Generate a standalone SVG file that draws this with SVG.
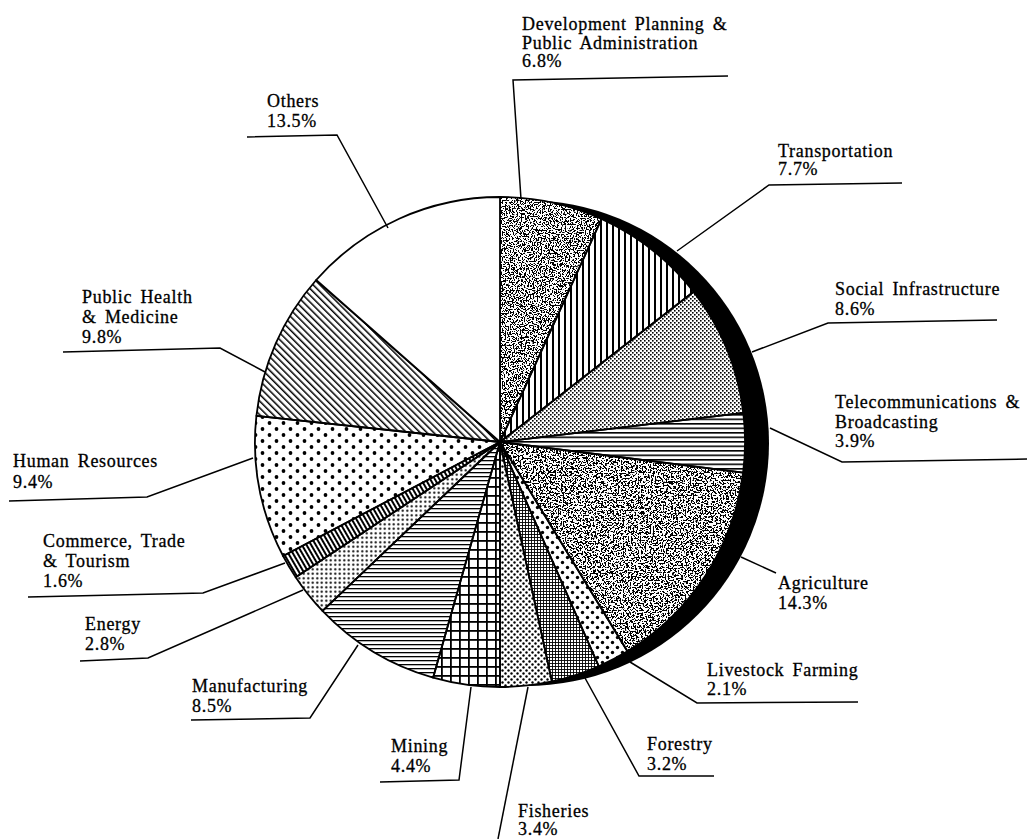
<svg xmlns="http://www.w3.org/2000/svg" width="1030" height="839" viewBox="0 0 1030 839">
<style>
.t{font-family:"Liberation Serif","Times New Roman",serif;font-size:18px;letter-spacing:0.7px;word-spacing:3px;fill:#000;stroke:#000;stroke-width:0.3}
.o{fill:none;stroke:#000;stroke-width:1.8;stroke-linejoin:round}
.ld{fill:none;stroke:#000;stroke-width:1.5;stroke-linejoin:miter}
</style>
<defs>
<filter id="speck1" filterUnits="userSpaceOnUse" x="0" y="0" width="1030" height="839" color-interpolation-filters="sRGB">
<feTurbulence type="fractalNoise" baseFrequency="0.75" numOctaves="2" seed="3" result="n"/>
<feColorMatrix in="n" type="matrix" values="0 0 0 0 0  0 0 0 0 0  0 0 0 0 0  -40 0 0 0 19.7" result="a"/>
<feComposite in="a" in2="SourceAlpha" operator="in"/>
</filter>
<filter id="speck2" filterUnits="userSpaceOnUse" x="0" y="0" width="1030" height="839" color-interpolation-filters="sRGB">
<feTurbulence type="fractalNoise" baseFrequency="0.6" numOctaves="2" seed="11" result="n"/>
<feColorMatrix in="n" type="matrix" values="0 0 0 0 0  0 0 0 0 0  0 0 0 0 0  -40 0 0 0 19.5" result="a"/>
<feComposite in="a" in2="SourceAlpha" operator="in"/>
</filter>
<pattern id="pVert" width="6" height="10" patternUnits="userSpaceOnUse"><rect x="0" y="0" width="2" height="10" fill="#000"/></pattern>
<pattern id="pChk" width="4" height="4" patternUnits="userSpaceOnUse"><rect x="0" y="0" width="1.6" height="1.6" fill="#000"/><rect x="2" y="2" width="1.6" height="1.6" fill="#000"/></pattern>
<pattern id="pHorA" width="10" height="4.5" patternUnits="userSpaceOnUse"><rect x="0" y="0" width="10" height="1.6" fill="#000"/></pattern>
<pattern id="pHorB" width="10" height="4" patternUnits="userSpaceOnUse"><rect x="0" y="0" width="10" height="1.3" fill="#000"/></pattern>
<pattern id="pBigDots" width="10" height="10" patternUnits="userSpaceOnUse"><circle cx="2.5" cy="2.5" r="1.7" fill="#000"/><circle cx="7.5" cy="7.5" r="1.7" fill="#000"/></pattern>
<pattern id="pFineGrid" width="3" height="3" patternUnits="userSpaceOnUse"><rect x="0" y="0" width="3" height="0.9" fill="#000"/><rect x="0" y="0" width="0.9" height="3" fill="#000"/></pattern>
<pattern id="pMedDots" width="6" height="6" patternUnits="userSpaceOnUse"><circle cx="1.5" cy="1.5" r="1.2" fill="#000"/><circle cx="4.5" cy="4.5" r="1.2" fill="#000"/></pattern>
<pattern id="pGrid" width="9" height="9" patternUnits="userSpaceOnUse"><rect x="0" y="0" width="9" height="1.8" fill="#000"/><rect x="0" y="0" width="1.8" height="9" fill="#000"/></pattern>
<pattern id="pSmallDots" width="4.5" height="4.5" patternUnits="userSpaceOnUse"><circle cx="2.25" cy="2.25" r="1.1" fill="#000"/></pattern>
<pattern id="pComm" width="4" height="10" patternUnits="userSpaceOnUse" patternTransform="rotate(-30)"><rect x="0" y="0" width="2" height="10" fill="#000"/></pattern>
<pattern id="pSparse" width="14" height="12" patternUnits="userSpaceOnUse"><circle cx="3.5" cy="3" r="1.9" fill="#000"/><circle cx="10.5" cy="9" r="1.9" fill="#000"/></pattern>
<pattern id="pDiag" width="4.8" height="10" patternUnits="userSpaceOnUse" patternTransform="rotate(-45)"><rect x="0" y="0" width="1.5" height="10" fill="#000"/></pattern>
</defs>
<rect width="1030" height="839" fill="#fff"/>
<g id="pie">
<circle id="rim" cx="526" cy="443" r="243" fill="#000"/>
<circle cx="500" cy="442" r="245" fill="#fff"/>
<g id="slice-development"><path d="M500,442 L500,197 A245,245 0 0 1 601.5,219 Z" fill="#000" filter="url(#speck1)"/><path class="o" d="M500,442 L500,197 A245,245 0 0 1 601.5,219 Z"/></g>
<g id="slice-transportation"><path class="o" style="fill:url(#pVert)" d="M500,442 L601.5,219 A245,245 0 0 1 693.6,291.8 Z"/></g>
<g id="slice-social"><path class="o" style="fill:url(#pChk)" d="M500,442 L693.6,291.8 A245,245 0 0 1 743.3,412.8 Z"/></g>
<g id="slice-telecom"><path class="o" style="fill:url(#pHorA)" d="M500,442 L743.3,412.8 A245,245 0 0 1 743.1,472.7 Z"/></g>
<g id="slice-agriculture"><path d="M500,442 L743.1,472.7 A245,245 0 0 1 627.4,651.3 Z" fill="#000" filter="url(#speck2)"/><path class="o" d="M500,442 L743.1,472.7 A245,245 0 0 1 627.4,651.3 Z"/></g>
<g id="slice-livestock"><path class="o" style="fill:url(#pBigDots)" d="M500,442 L627.4,651.3 A245,245 0 0 1 598.7,666.2 Z"/></g>
<g id="slice-forestry"><path class="o" style="fill:url(#pFineGrid)" d="M500,442 L598.7,666.2 A245,245 0 0 1 551.9,681.4 Z"/></g>
<g id="slice-fisheries"><path class="o" style="fill:url(#pMedDots)" d="M500,442 L551.9,681.4 A245,245 0 0 1 500,687 Z"/></g>
<g id="slice-mining"><path class="o" style="fill:url(#pGrid)" d="M500,442 L500,687 A245,245 0 0 1 433.1,677.7 Z"/></g>
<g id="slice-manufacturing"><path class="o" style="fill:url(#pHorB)" d="M500,442 L433.1,677.7 A245,245 0 0 1 322.5,610.9 Z"/></g>
<g id="slice-energy"><path class="o" style="fill:url(#pSmallDots)" d="M500,442 L322.5,610.9 A245,245 0 0 1 295.7,577.2 Z"/></g>
<g id="slice-commerce"><path class="o" style="fill:url(#pComm)" d="M500,442 L295.7,577.2 A245,245 0 0 1 283.1,556 Z"/></g>
<g id="slice-human-resources"><path class="o" style="fill:url(#pSparse)" d="M500,442 L283.1,556 A245,245 0 0 1 256.4,415.9 Z"/></g>
<g id="slice-public-health"><path class="o" style="fill:url(#pDiag)" d="M500,442 L256.4,415.9 A245,245 0 0 1 316.2,280 Z"/></g>
<g id="slice-others"><path class="o" style="fill:#fff" d="M500,442 L316.2,280 A245,245 0 0 1 500,197 Z"/></g>
</g>
<g id="connectors">
<polyline class="ld" points="728,76 513,80 521,199"/>
<polyline class="ld" points="902,183 769,185 677,251"/>
<polyline class="ld" points="997,320 828,323 752,352"/>
<polyline class="ld" points="1027,459 842,462 770,428"/>
<polyline class="ld" points="741,557 776,573"/>
<polyline class="ld" points="858,702 697,703 630,662"/>
<polyline class="ld" points="714,776 639,776 585,678"/>
<polyline class="ld" points="528,687 498,839"/>
<polyline class="ld" points="380,782 459,780 471,687"/>
<polyline class="ld" points="191,720 310,718 358,645"/>
<polyline class="ld" points="80,661 148,658 303,590"/>
<polyline class="ld" points="28,597 203,593 285,563"/>
<polyline class="ld" points="9,501 147,497 253,458"/>
<polyline class="ld" points="63,352 220,348 265,372"/>
<polyline class="ld" points="247,137 337,135 388,228"/>
</g>
<g id="labels">
<g id="label-development"><text class="t" x="522" y="30">Development Planning &amp;</text><text class="t" x="522" y="48.5">Public Administration</text><text class="t" x="522" y="67">6.8%</text></g>
<g id="label-transportation"><text class="t" x="778" y="157">Transportation</text><text class="t" x="778" y="175">7.7%</text></g>
<g id="label-social"><text class="t" x="835" y="295">Social Infrastructure</text><text class="t" x="835" y="315">8.6%</text></g>
<g id="label-telecom"><text class="t" x="835" y="408">Telecommunications &amp;</text><text class="t" x="835" y="428">Broadcasting</text><text class="t" x="835" y="447">3.9%</text></g>
<g id="label-agriculture"><text class="t" x="778" y="589">Agriculture</text><text class="t" x="778" y="609">14.3%</text></g>
<g id="label-livestock"><text class="t" x="707" y="676">Livestock Farming</text><text class="t" x="707" y="695">2.1%</text></g>
<g id="label-forestry"><text class="t" x="647" y="750">Forestry</text><text class="t" x="647" y="770">3.2%</text></g>
<g id="label-fisheries"><text class="t" x="518" y="817">Fisheries</text><text class="t" x="518" y="835">3.4%</text></g>
<g id="label-mining"><text class="t" x="391" y="752">Mining</text><text class="t" x="391" y="772">4.4%</text></g>
<g id="label-manufacturing"><text class="t" x="192" y="692">Manufacturing</text><text class="t" x="192" y="712">8.5%</text></g>
<g id="label-energy"><text class="t" x="85" y="630">Energy</text><text class="t" x="85" y="650">2.8%</text></g>
<g id="label-commerce"><text class="t" x="43" y="547">Commerce, Trade</text><text class="t" x="43" y="567">&amp; Tourism</text><text class="t" x="43" y="587">1.6%</text></g>
<g id="label-human-resources"><text class="t" x="13" y="467">Human Resources</text><text class="t" x="13" y="488">9.4%</text></g>
<g id="label-public-health"><text class="t" x="82" y="303">Public Health</text><text class="t" x="82" y="323">&amp; Medicine</text><text class="t" x="82" y="343">9.8%</text></g>
<g id="label-others"><text class="t" x="267" y="107">Others</text><text class="t" x="267" y="127">13.5%</text></g>
</g>
</svg>
